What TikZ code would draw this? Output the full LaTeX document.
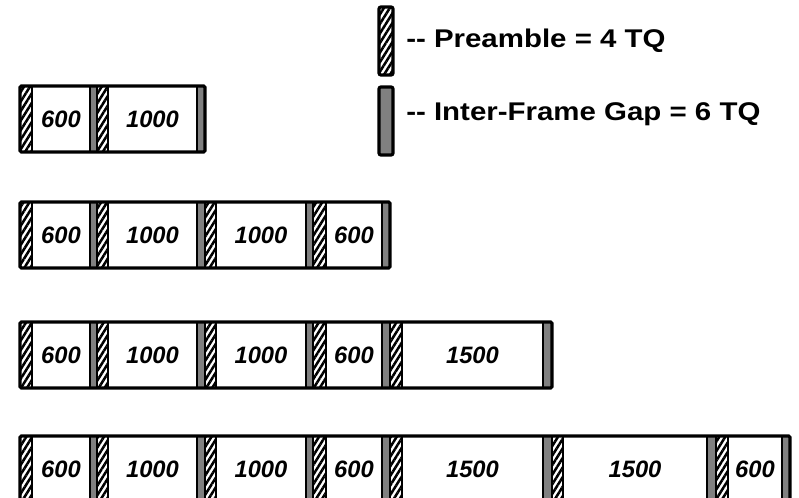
\documentclass[tikz,border=0pt]{standalone}
\usepackage{fontspec}
\usetikzlibrary{patterns.meta}
\newfontfamily\lblfont{Liberation Sans}
\newfontfamily\legfont[FakeStretch=1.15]{Liberation Sans}
\definecolor{gapgray}{RGB}{128,128,128}
\tikzset{
  hatch/.style={pattern={Lines[angle=58,distance=3.8pt,line width=1.9pt]}},
  gapfill/.style={fill=gapgray},
  sep/.style={draw=black,line width=1.9pt},
  outer/.style={draw=black,line width=2.4pt,rounded corners=1pt},
  lbl/.style={font=\lblfont\bfseries\itshape\fontsize{17.8pt}{20pt}\selectfont,inner sep=0pt},
  leg/.style={font=\legfont\bfseries\fontsize{19.2pt}{22pt}\selectfont,inner sep=0pt,anchor=base west},
  legbox/.style={draw=black,line width=2.4pt,rounded corners=1.5pt}
}
% #1 name, #2 x0, #3 x1, #4 x2, #5 x3, #6 label, #7 ytop, #8 ybottom
\newcommand\frm[8]{%
  \fill[hatch] (#2,#7) rectangle (#3,#8);
  \fill[gapfill] (#4,#7) rectangle (#5,#8);
  \draw[sep] (#3,#7) -- (#3,#8);
  \draw[sep] (#4,#7) -- (#4,#8);
  \draw[sep] (#5,#7) -- (#5,#8);
  \node[lbl] (#1) at ({(#3+#4)/2},{(#7+#8)/2}) {#6};
}
\begin{document}
\begin{tikzpicture}[x=0.75pt,y=-0.75pt]
\useasboundingbox (0,0) rectangle (799,498);
\clip (0,0) rectangle (799,498);
% legend
\fill[hatch] (379,7) rectangle (393,75);
\draw[legbox] (379,7) rectangle (393,75);
\fill[gapfill] (379,87) rectangle (393,155);
\draw[legbox] (379,87) rectangle (393,155);
\node[leg] (legpre) at (406,48) {-{}- Preamble = 4 TQ};
\node[leg] (leggap) at (406,121) {-{}- Inter-Frame Gap = 6 TQ};
% row 1
\frm{a1}{20}{32}{90}{97}{600}{86}{152}
\frm{a2}{97}{108}{197}{205}{1000}{86}{152}
\draw[outer] (20,86) rectangle (205,152);
% row 2
\frm{b1}{20}{32}{90}{97}{600}{202}{268}
\frm{b2}{97}{108}{197}{205}{1000}{202}{268}
\frm{b3}{205}{216}{306}{313}{1000}{202}{268}
\frm{b4}{313}{326}{382}{390}{600}{202}{268}
\draw[outer] (20,202) rectangle (390,268);
% row 3
\frm{c1}{20}{32}{90}{97}{600}{322}{388}
\frm{c2}{97}{108}{197}{205}{1000}{322}{388}
\frm{c3}{205}{216}{306}{313}{1000}{322}{388}
\frm{c4}{313}{326}{382}{390}{600}{322}{388}
\frm{c5}{390}{402}{543}{552}{1500}{322}{388}
\draw[outer] (20,322) rectangle (552,388);
% row 4
\frm{d1}{20}{32}{90}{97}{600}{436}{502}
\frm{d2}{97}{108}{197}{205}{1000}{436}{502}
\frm{d3}{205}{216}{306}{313}{1000}{436}{502}
\frm{d4}{313}{326}{382}{390}{600}{436}{502}
\frm{d5}{390}{402}{543}{552}{1500}{436}{502}
\frm{d6}{552}{563}{707}{716}{1500}{436}{502}
\frm{d7}{716}{728}{782}{790}{600}{436}{502}
\draw[outer] (20,436) rectangle (790,502);
\end{tikzpicture}
\end{document}
